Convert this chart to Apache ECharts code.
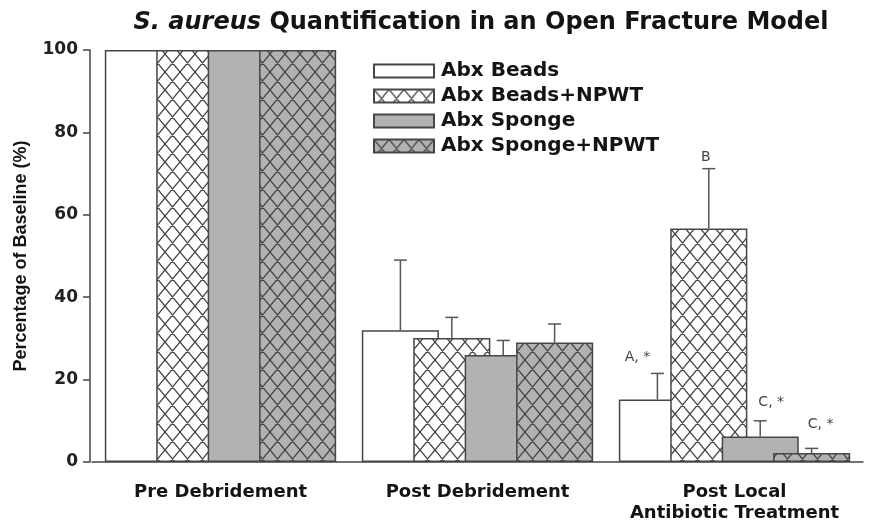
<!DOCTYPE html>
<html>
<head>
<meta charset="utf-8">
<script src="https://cdn.jsdelivr.net/npm/echarts@6/dist/echarts.min.js"></script>
<style>
  html, body { margin: 0; padding: 0; background: #fff; }
  #chart { width: 871px; height: 524px; }
</style>
</head>
<body>
<div id="chart"></div>
<script>
// data
const categories = ["Pre Debridement", "Post Debridement", "Post Local\nAntibiotic Treatment"];
const seriesNames = ["Abx Beads", "Abx Beads+NPWT", "Abx Sponge", "Abx Sponge+NPWT"];
const beads = [100, 32, 15.2];
const beadsNpwt = [100, 30.1, 56.7];
const sponge = [100, 26, 6.2];
const spongeNpwt = [100, 29, 2.2];
// upper error (SD) for each bar
const beadsErr = [0, 17, 6.3];
const beadsNpwtErr = [0, 5, 14.5];
const spongeErr = [0, 3.5, 3.8];
const spongeNpwtErr = [0, 4.5, 1.1];
// significance letters above the error bars
const beadsSig = ["", "", "A, *"];
const beadsNpwtSig = ["", "", "B"];
const spongeSig = ["", "", "C, *"];
const spongeNpwtSig = ["", "", "C, *"];
const yTicks = [0, 20, 40, 60, 80, 100];

const values = [beads, beadsNpwt, sponge, spongeNpwt];
const errors = [beadsErr, beadsNpwtErr, spongeErr, spongeNpwtErr];
const sigs = [beadsSig, beadsNpwtSig, spongeSig, spongeNpwtSig];

const FONT = "DejaVu Sans";
const LINE = "#464646";
const GRAY = "#b2b2b2";

// diamond cross-hatch tile
function hatch(bg, w, h) {
  const c = document.createElement("canvas");
  c.width = w;
  c.height = h;
  const ctx = c.getContext("2d");
  ctx.fillStyle = bg;
  ctx.fillRect(0, 0, w, h);
  ctx.strokeStyle = "#444";
  ctx.lineWidth = 1.3;
  ctx.beginPath();
  for (let dx = -1; dx <= 1; dx++) {
    for (let dy = -1; dy <= 1; dy++) {
      ctx.moveTo(dx * w, dy * h);
      ctx.lineTo(dx * w + w, dy * h + h);
      ctx.moveTo(dx * w + w, dy * h);
      ctx.lineTo(dx * w, dy * h + h);
    }
  }
  ctx.stroke();
  return c;
}

const fills = [
  "#ffffff",
  { image: hatch("#ffffff", 15, 18), repeat: "repeat" },
  GRAY,
  { image: hatch(GRAY, 15, 18), repeat: "repeat" }
];

// offsets of the letters from the top of each error bar
const sigOffsets = [[-20, -16], [-3, -11], [11, -18], [9, -24]];

const chart = echarts.init(document.getElementById("chart"));

const barSeries = seriesNames.map((name, i) => ({
  name: name,
  type: "bar",
  data: values[i],
  barWidth: "30%",
  barGap: "-33.3%",
  itemStyle: { color: fills[i], borderColor: LINE, borderWidth: 1.5 },
  emphasis: { disabled: true }
}));

const errorSeries = {
  type: "custom",
  name: "error",
  z: 10,
  data: categories.map((c, i) => [i]),
  renderItem: function (params, api) {
    const ci = api.value(0);
    const band = api.size([1, 0])[0];
    const children = [];
    values.forEach((vals, si) => {
      const err = errors[si][ci];
      const base = api.coord([ci, vals[ci]]);
      const top = api.coord([ci, vals[ci] + err]);
      const x = base[0] + (si - 1.5) * 0.2 * band;
      if (err > 0) {
        children.push({
          type: "line",
          shape: { x1: x, y1: base[1], x2: x, y2: top[1] },
          style: { stroke: "#555", lineWidth: 1.5 }
        });
        children.push({
          type: "line",
          shape: { x1: x - 6.5, y1: top[1], x2: x + 6.5, y2: top[1] },
          style: { stroke: "#555", lineWidth: 1.5 }
        });
      }
      const label = sigs[si][ci];
      if (label) {
        children.push({
          type: "text",
          x: x + sigOffsets[si][0],
          y: top[1] + sigOffsets[si][1],
          style: {
            text: label,
            fill: "#444",
            font: "14px 'DejaVu Sans'",
            align: "center",
            verticalAlign: "middle"
          }
        });
      }
    });
    return { type: "group", children: children };
  }
};

chart.setOption({
  animation: false,
  backgroundColor: "#fff",
  title: {
    text: "{i|S. aureus} Quantification in an Open Fracture Model",
    left: 476,
    textAlign: "center",
    top: 6,
    textStyle: {
      fontFamily: FONT,
      fontWeight: "bold",
      fontSize: 24,
      color: "#141414",
      rich: {
        i: { fontFamily: FONT, fontStyle: "italic", fontWeight: "bold", fontSize: 24, color: "#141414" }
      }
    }
  },
  legend: {
    orient: "vertical",
    left: 368,
    top: 56,
    icon: "rect",
    itemWidth: 60,
    itemHeight: 13,
    itemGap: 5,
    selectedMode: false,
    data: seriesNames,
    textStyle: {
      fontFamily: FONT,
      fontWeight: "bold",
      fontSize: 20,
      lineHeight: 20,
      color: "#141414",
      padding: [0, 0, 0, 2]
    }
  },
  grid: { left: 92, right: 8, top: 50, bottom: 61 },
  xAxis: {
    type: "category",
    data: categories,
    axisLine: { lineStyle: { color: LINE, width: 1.5 } },
    axisTick: { show: false },
    axisLabel: {
      interval: 0,
      margin: 20,
      fontFamily: FONT,
      fontWeight: "bold",
      fontSize: 18,
      lineHeight: 21,
      color: "#141414"
    }
  },
  yAxis: {
    type: "value",
    min: yTicks[0],
    max: yTicks[yTicks.length - 1],
    interval: yTicks[1] - yTicks[0],
    offset: 2,
    splitLine: { show: false },
    axisLine: { show: true, lineStyle: { color: LINE, width: 1.5 } },
    axisTick: { show: true, length: 7, lineStyle: { color: LINE, width: 1.5 } },
    axisLabel: {
      margin: 12,
      fontFamily: FONT,
      fontWeight: "bold",
      fontSize: 17,
      color: "#222"
    },
    name: "Percentage of Baseline (%)",
    nameLocation: "middle",
    nameRotate: 90,
    nameGap: 60,
    nameTextStyle: {
      fontFamily: "Liberation Sans",
      fontWeight: "bold",
      fontSize: 18,
      color: "#141414"
    }
  },
  series: barSeries.concat([errorSeries])
});
</script>
</body>
</html>
